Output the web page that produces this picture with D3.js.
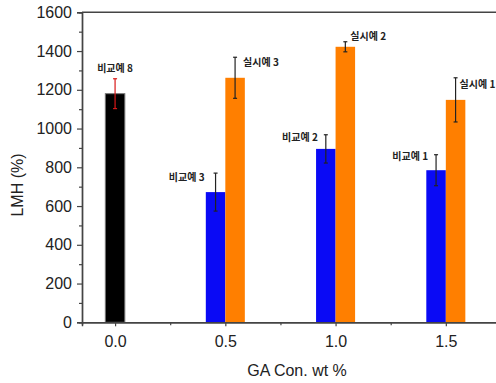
<!DOCTYPE html>
<html>
<head>
<meta charset="utf-8">
<script src="https://cdn.jsdelivr.net/npm/d3@7"></script>
<style>
  body { margin: 0; background: #fff; }
  text { font-family: "Liberation Sans", Arial, sans-serif; }
  .lbl { font-family: "Noto Sans CJK KR", sans-serif; font-weight: bold; font-size: 10px; fill: #222; }
</style>
</head>
<body>
<svg id="chart" width="496" height="383"></svg>
<script>
// GA concentration groups
var groups = [0.0, 0.5, 1.0, 1.5];
var xTicks = ["0.0", "0.5", "1.0", "1.5"];
var yTicks = [0, 200, 400, 600, 800, 1000, 1200, 1400, 1600];

// 비교예 8 (reference, black)
var refValue = [1180, null, null, null];
var refErr   = [77, null, null, null];
// 비교예 (blue)
var compValue = [null, 672, 895, 785];
var compErr   = [null, 98, 73, 80];
// 실시예 (orange)
var exValue = [null, 1262, 1422, 1148];
var exErr   = [null, 106, 26, 114];

var labels = [
  {text: "비교예 8", group: 0, series: "ref"},
  {text: "비교예 3", group: 1, series: "comp"},
  {text: "실시예 3", group: 1, series: "ex"},
  {text: "비교예 2", group: 2, series: "comp"},
  {text: "실시예 2", group: 2, series: "ex"},
  {text: "비교예 1", group: 3, series: "comp"},
  {text: "실시예 1", group: 3, series: "ex"}
];
// label placement relative to the error bar top: [anchor, dx, dy]
var labelPlace = [
  ["middle", 0, -7], ["end", -11, 8], ["start", 8, 9],
  ["end", -8, 6], ["start", 5, -2], ["end", -8, 5], ["start", 4, 10]
];

var svg = d3.select("#chart");

var x = d3.scaleLinear().domain([-0.15, 1.85]).range([82, 523]);
var y = d3.scaleLinear().domain([0, 1600]).range([322.3, 12.3]);
var barW = (x(0.5) - x(0)) * 0.177;

var colors = {ref: "#000000", comp: "#0a0af5", ex: "#ff7f00"};
var errColors = {ref: "#d81818", comp: "#222", ex: "#222"};

// build bar records
var bars = [];
groups.forEach(function(g, i){
  if(refValue[i] != null) bars.push({s: "ref", g: i, v: refValue[i], e: refErr[i], cx: x(g)});
  if(compValue[i] != null) bars.push({s: "comp", g: i, v: compValue[i], e: compErr[i], cx: x(g) - barW/2});
  if(exValue[i] != null) bars.push({s: "ex", g: i, v: exValue[i], e: exErr[i], cx: x(g) + barW/2});
});

svg.selectAll("rect.bar").data(bars).enter().append("rect")
  .attr("class", "bar")
  .attr("x", function(d){ return d.cx - barW/2; })
  .attr("y", function(d){ return y(d.v); })
  .attr("width", barW)
  .attr("height", function(d){ return y(0) - y(d.v); })
  .style("fill", function(d){ return colors[d.s]; })
  .style("stroke", function(d){ return d.s == "ref" ? "#777" : "none"; })
  .style("stroke-width", 1);

// error bars
var eg = svg.selectAll("g.err").data(bars).enter().append("g")
  .attr("class", "err")
  .style("stroke", function(d){ return errColors[d.s]; })
  .style("stroke-width", 1.2);
eg.append("line")
  .attr("x1", function(d){ return d.cx; }).attr("x2", function(d){ return d.cx; })
  .attr("y1", function(d){ return y(d.v + d.e); })
  .attr("y2", function(d){ return y(d.v - d.e); });
eg.append("line")
  .attr("x1", function(d){ return d.cx - 2; }).attr("x2", function(d){ return d.cx + 2; })
  .attr("y1", function(d){ return y(d.v + d.e); }).attr("y2", function(d){ return y(d.v + d.e); });
eg.append("line")
  .attr("x1", function(d){ return d.cx - 2; }).attr("x2", function(d){ return d.cx + 2; })
  .attr("y1", function(d){ return y(d.v - d.e); }).attr("y2", function(d){ return y(d.v - d.e); });

// axes
var axisColor = "#444";
var yAxis = d3.axisLeft(y).tickValues(yTicks).tickSize(5).tickPadding(5).tickFormat(d3.format("d"));
var gy = svg.append("g").attr("transform", "translate(" + x(-0.15) + ",0)").call(yAxis);
var yMinor = d3.axisLeft(y).tickValues(d3.range(100, 1600, 200)).tickSize(3).tickFormat("");
svg.append("g").attr("transform", "translate(" + x(-0.15) + ",0)").call(yMinor);

var xAxis = d3.axisBottom(x).tickValues(groups).tickSize(4).tickFormat(function(d, i){ return xTicks[i]; });
var gx = svg.append("g").attr("transform", "translate(0," + y(0) + ")").call(xAxis);
var xMinor = d3.axisBottom(x).tickValues([0.25, 0.75, 1.25, 1.75]).tickSize(3).tickFormat("");
svg.append("g").attr("transform", "translate(0," + y(0) + ")").call(xMinor);

svg.selectAll(".domain").style("stroke", axisColor).style("stroke-width", 1.4);
svg.selectAll(".tick line").style("stroke", axisColor).style("stroke-width", 1.2);
svg.selectAll(".tick text").style("font-size", "16px").style("fill", "#222");
gx.selectAll(".tick text").attr("y", 25).attr("dy", 0);

// top frame line
svg.append("line")
  .attr("x1", x(-0.15)).attr("x2", 496)
  .attr("y1", y(1600)).attr("y2", y(1600))
  .style("stroke", axisColor).style("stroke-width", 1.4);

// axis titles
svg.append("text")
  .attr("transform", "translate(23,185) rotate(-90)")
  .attr("text-anchor", "middle")
  .style("font-size", "16px").style("fill", "#222")
  .text("LMH (%)");
svg.append("text")
  .attr("x", 297).attr("y", 376)
  .attr("text-anchor", "middle")
  .style("font-size", "16px").style("fill", "#222")
  .text("GA Con. wt %");

// bar annotations
svg.selectAll("text.lbl").data(labels).enter().append("text")
  .attr("class", "lbl")
  .attr("text-anchor", function(d, i){ return labelPlace[i][0]; })
  .attr("x", function(d, i){
    var b = bars.filter(function(r){ return r.g == d.group && r.s == d.series; })[0];
    return b.cx + labelPlace[i][1];
  })
  .attr("y", function(d, i){
    var b = bars.filter(function(r){ return r.g == d.group && r.s == d.series; })[0];
    return y(b.v + b.e) + labelPlace[i][2];
  })
  .text(function(d){ return d.text; });
</script>
</body>
</html>
